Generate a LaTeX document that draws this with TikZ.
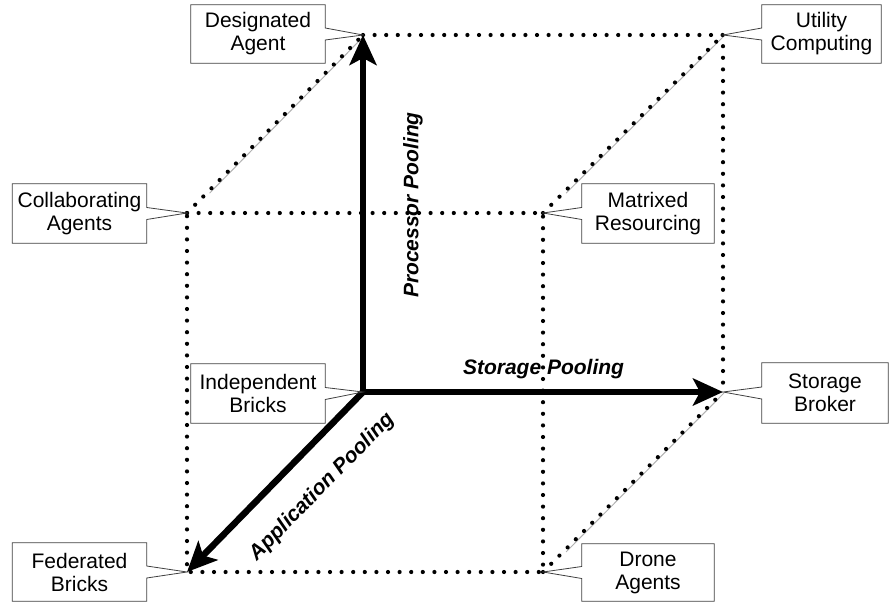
\documentclass[tikz,border=0pt]{standalone}
\usepackage{fontspec}
\setmainfont{Liberation Sans}
\usetikzlibrary{arrows.meta,calc}
\tikzset{
  lbl/.style={rectangle, inner sep=0pt, align=center, font=\fontsize{21}{23}\selectfont},
  callout/.style={draw=black!75, line width=0.8pt},
  dotline/.style={line width=4.2pt, line cap=round, dash pattern=on 0pt off 11.6pt},
  faint/.style={draw=black!30, line width=1pt},
  axis/.style={line width=6.5pt, -{Stealth[length=30pt,width=27pt,inset=7pt]}},
  axlbl/.style={inner sep=0pt, font=\fontsize{21}{23}\selectfont\bfseries\itshape}
}
\newcommand\calR[2]{\draw[callout] (#1.north west) -- (#1.north east) -- ([yshift=6pt]#1.east) -- (#2) -- ([yshift=-6pt]#1.east) -- (#1.south east) -- (#1.south west) -- cycle;}
\newcommand\calL[2]{\draw[callout] (#1.north east) -- (#1.north west) -- ([yshift=6pt]#1.west) -- (#2) -- ([yshift=-6pt]#1.west) -- (#1.south west) -- (#1.south east) -- cycle;}
\begin{document}
\begin{tikzpicture}[x=1pt,y=-1pt]
\useasboundingbox (0,0) rectangle (889,602);
% cube vertices
\coordinate (O) at (363,392);
\coordinate (T) at (363,35);
\coordinate (R) at (723,392);
\coordinate (TR) at (723,35);
\coordinate (F) at (187,572);
\coordinate (FT) at (187,213);
\coordinate (FTR) at (543,213);
\coordinate (FR) at (543,572);
% faint lines along diagonals
\draw[faint] ($(FT)!0.12!(T)+(1.5,1.5)$) -- ($(T)+(1,1)$);
\draw[faint] ($(FTR)!0.12!(TR)+(1.5,1.5)$) -- ($(TR)+(1,1)$);
\draw[faint] ($(FR)!0.12!(R)+(1.5,1.5)$) -- ($(R)+(1,1)$);
% dotted edges
\draw[dotline] (FT) -- (FTR) -- (FR) -- (F) -- cycle;
\draw[dotline] (T) -- (TR) -- (R);
\draw[dotline] (FT) -- (T);
\draw[dotline] (FTR) -- (TR);
\draw[dotline] (FR) -- (R);
% axes
\draw[axis] (O) -- (T);
\draw[axis] (O) -- (R);
\draw[axis] (O) -- (F);
% axis labels
\node[axlbl] (sp) at (543.5,369) {Storage Pooling};
\node[axlbl, rotate=90] (pp) at (413,205) {Processor Pooling};
\node[axlbl, rotate=45.6] (ap) at (322,487) {Application Pooling};
% callout labels
\node[lbl, minimum width=134pt, minimum height=58pt] (da) at (258,34) {Designated\\Agent};
\node[lbl, minimum width=119pt, minimum height=58pt] (uc) at (821.5,34) {Utility\\Computing};
\node[lbl, minimum width=134pt, minimum height=59pt] (ca) at (79.5,213.5) {Collaborating\\Agents};
\node[lbl, minimum width=132pt, minimum height=59pt] (mr) at (648,213.5) {Matrixed\\Resourcing};
\node[lbl, minimum width=134pt, minimum height=59pt] (ib) at (258,393.5) {Independent\\Bricks};
\node[lbl, minimum width=126pt, minimum height=60pt] (sb) at (825,393) {Storage\\Broker};
\node[lbl, minimum width=134pt, minimum height=58pt] (fb) at (79.5,572) {Federated\\Bricks};
\node[lbl, minimum width=132pt, minimum height=57pt] (dr) at (648,572.5) {Drone\\Agents};
\calR{da}{T}
\calL{uc}{TR}
\calR{ca}{FT}
\calL{mr}{FTR}
\calR{ib}{O}
\calL{sb}{R}
\calR{fb}{F}
\calL{dr}{FR}
\end{tikzpicture}
\end{document}
